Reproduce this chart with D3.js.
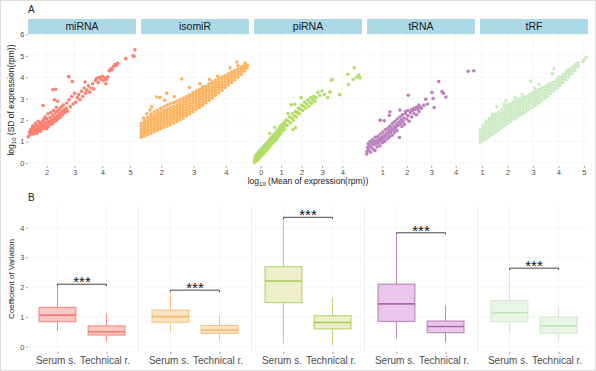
<!DOCTYPE html>
<html>
<head>
<meta charset="utf-8">
<script src="https://cdn.jsdelivr.net/npm/d3@7"></script>
<style>
	body { margin: 0; background: #fff; }
	text { font-family: "Liberation Sans", Arial, sans-serif; }
</style>
</head>
<body>
<svg width="596" height="371"></svg>
<script>
// ---- data ----
const facets = ['miRNA', 'isomiR', 'piRNA', 'tRNA', 'tRF'];
const groups = ['Serum s.', 'Technical r.'];

const xTicksA = [[2, 3, 4, 5], [2, 3, 4], [0, 1, 2, 3, 4], [1, 2, 3, 4], [1, 2, 3, 4, 5]];
const yTicksA = [0, 1, 2, 3, 4, 5, 6];
const yTicksB = [0, 1, 2, 3, 4];

// log10 mean, log10 SD
const mirnaPts = [
	[1.34,1.22],[1.38,1.45],[1.4,1.32],[1.42,1.55],[1.45,1.4],[1.48,1.62],[1.5,1.48],[1.52,1.35],[1.55,1.58],[1.57,1.7],
	[1.6,1.45],[1.62,1.6],[1.65,1.52],[1.67,1.75],[1.7,1.62],[1.72,1.5],[1.75,1.68],[1.77,1.85],[1.8,1.58],[1.82,1.72],
	[1.85,1.95],[1.87,1.65],[1.9,1.8],[1.92,1.6],[1.95,1.9],[1.97,1.72],[2.0,2.05],[2.02,1.85],[2.05,1.68],[2.07,1.95],
	[2.1,1.78],[2.12,2.12],[2.15,1.9],[2.17,2.0],[2.2,1.82],[2.22,2.2],[2.25,2.05],[2.27,1.92],[2.3,2.3],[2.32,2.12],
	[2.35,2.0],[2.37,2.4],[2.4,2.2],[2.42,2.08],[2.45,2.5],[2.47,2.3],[2.5,2.15],[2.52,2.6],[2.55,2.4],[2.57,2.25],
	[2.6,2.7],[2.62,2.48],[2.65,2.35],[2.7,2.55],[2.72,2.8],[2.75,2.42],[1.6,1.85],[1.7,1.95],[1.85,1.78],[1.95,2.15],
	[2.05,2.3],[2.15,2.35],[2.25,2.45],[2.35,2.6],[1.5,1.72],[1.45,1.52],[1.65,1.38],[1.78,1.48],[1.9,2.05],[2.0,1.6],
	[1.87,2.68],[2.22,3.42],[2.32,3.44],[2.79,4.03],[2.92,3.8],[2.28,2.95],[2.4,2.88],
	[2.8,2.95],[2.85,2.62],[2.9,3.1],[2.95,2.75],[3.0,3.25],[3.05,2.85],[3.1,3.05],[3.15,3.2],[3.2,2.95],[3.25,3.35],
	[3.3,3.1],[3.35,3.5],[3.38,3.78],[3.4,3.25],[3.45,3.4],[3.5,3.6],[3.55,3.3],[3.6,3.5],[3.65,3.7],[3.7,3.45],
	[3.75,3.85],[3.8,3.95],[3.85,3.75],[3.9,4.0],[3.95,3.9],[4.0,4.05],[4.05,3.85],[4.1,3.98],[4.13,3.7],[4.15,3.9],
	[4.2,4.02],[4.25,4.3],[4.3,4.4],[4.35,4.35],[4.4,4.5],[4.45,4.6],[4.5,4.55],[4.55,4.65],[4.84,4.87],[5.1,5.0],
	[5.14,4.98],[5.17,5.28]
];

// dense band, each row: mean, then the SD values at that mean
const isomirCols = [
	[1.38,1.2,1.33,1.46,1.59,1.72,1.85],
	[1.48,1.26,1.39,1.52,1.65,1.78,1.91,2.02],
	[1.58,1.32,1.45,1.58,1.71,1.84,1.97,2.12],
	[1.68,1.39,1.52,1.65,1.78,1.91,2.04,2.17,2.28],
	[1.78,1.46,1.59,1.72,1.85,1.98,2.11,2.24,2.38],
	[1.88,1.53,1.66,1.79,1.92,2.05,2.18,2.31,2.46],
	[1.98,1.6,1.73,1.86,1.99,2.12,2.25,2.38,2.55],
	[2.08,1.67,1.8,1.93,2.06,2.19,2.32,2.45,2.62],
	[2.18,1.73,1.86,1.99,2.12,2.25,2.38,2.51,2.7],
	[2.28,1.79,1.92,2.05,2.18,2.31,2.44,2.57,2.76],
	[2.38,1.87,2.0,2.13,2.26,2.39,2.52,2.65,2.82],
	[2.48,1.94,2.07,2.2,2.33,2.46,2.59,2.72,2.88],
	[2.58,2.02,2.15,2.28,2.41,2.54,2.67,2.8,2.95],
	[2.68,2.1,2.23,2.36,2.49,2.62,2.75,2.88,3.02],
	[2.78,2.19,2.32,2.45,2.58,2.71,2.84,2.97,3.1],
	[2.88,2.29,2.42,2.55,2.68,2.81,2.94,3.07,3.18],
	[2.98,2.39,2.52,2.65,2.78,2.91,3.04,3.17,3.28],
	[3.08,2.49,2.62,2.75,2.88,3.01,3.14,3.27,3.36],
	[3.18,2.59,2.72,2.85,2.98,3.11,3.24,3.37,3.44],
	[3.28,2.69,2.82,2.95,3.08,3.21,3.34,3.47,3.54],
	[3.38,2.8,2.93,3.06,3.19,3.32,3.45,3.58],
	[3.48,2.92,3.05,3.18,3.31,3.44,3.57,3.7],
	[3.58,3.04,3.17,3.3,3.43,3.56,3.69,3.78],
	[3.68,3.16,3.29,3.42,3.55,3.68,3.81,3.86],
	[3.78,3.28,3.41,3.54,3.67,3.8,3.93],
	[3.88,3.4,3.53,3.66,3.79,3.92,4.0],
	[3.98,3.52,3.65,3.78,3.91,4.04,4.08],
	[4.08,3.64,3.77,3.9,4.03,4.16],
	[4.18,3.76,3.89,4.02,4.15,4.24],
	[4.28,3.88,4.01,4.14,4.27,4.32],
	[4.38,4.0,4.13,4.26,4.39],
	[4.48,4.14,4.27,4.4,4.48],
	[4.58,4.28,4.41,4.53],
	[4.66,4.44,4.55]
];
const isomirPts = [
	[2.63,3.92],[1.7,2.62],[2.17,3.26],[2.87,3.52],[1.96,3.05],[1.86,3.08],[2.11,2.93],[1.65,2.47],[3.41,3.4],
	[4.13,4.45],[4.38,4.54],[4.53,4.51],[4.66,4.55],[4.34,4.71],[4.6,4.67],[3.2,3.7],[3.5,3.9],[3.75,4.05],
	[2.4,3.1],[1.55,2.3],[1.45,2.1]
];

const pirnaPts = [
	[-0.32,0.03],[-0.3,0.15],[-0.28,0.3],[-0.25,0.08],[-0.22,0.22],[-0.2,0.4],[-0.17,0.12],[-0.15,0.3],[-0.12,0.5],[-0.1,0.2],
	[-0.07,0.38],[-0.05,0.58],[-0.02,0.28],[0.0,0.45],[0.03,0.65],[0.05,0.35],[0.08,0.52],[0.1,0.72],[0.13,0.42],[0.15,0.6],
	[0.18,0.8],[0.2,0.5],[0.23,0.68],[0.25,0.88],[0.28,0.58],[0.3,0.78],[0.33,0.95],[0.35,0.65],[0.38,0.85],[0.4,1.05],
	[0.43,0.75],[0.44,1.38],[0.45,0.95],[0.48,1.15],[0.5,0.85],[0.53,1.02],[0.55,1.22],[0.58,0.92],[0.6,1.1],[0.63,1.3],
	[0.65,1.0],[0.68,1.66],[0.7,1.2],[0.72,1.4],[0.75,1.08],[0.78,1.3],[0.8,1.5],[0.83,1.18],[0.85,1.4],[0.88,1.6],
	[0.9,1.3],[0.93,1.5],[0.95,1.7],[0.98,1.38],[1.0,1.6],[1.05,1.8],[1.08,1.5],[1.1,1.7],[1.15,1.9],[1.18,1.6],
	[1.2,1.8],[1.25,2.0],[1.3,1.75],[1.33,2.31],[1.35,1.95],[1.4,2.15],[1.45,1.88],[1.5,2.1],[1.49,2.72],[1.55,2.3],
	[1.57,1.55],[1.6,2.0],[1.66,2.74],[1.65,2.2],[1.7,1.65],[1.7,2.4],[1.75,2.15],[1.8,2.35],[1.85,2.55],[1.9,2.3],
	[1.95,2.5],[1.98,3.05],[2.0,2.7],[2.05,2.45],[2.1,2.65],[2.15,2.85],[2.2,2.55],[2.25,2.75],[2.3,2.95],[2.35,2.65],
	[2.4,2.85],[2.45,3.05],[2.5,2.78],[2.55,2.95],[2.6,3.1],[2.65,2.88],[2.71,3.05],[2.8,3.3],[2.9,3.15],[3.0,3.36],
	[3.12,3.2],[3.28,3.05],[3.4,3.29],[3.46,3.86],[3.38,3.32],[3.49,3.9],[3.87,3.19],[4.26,4.14],[4.3,3.66],[4.53,3.9],
	[4.58,4.45],[4.69,4.0],[4.86,3.98],[4.8,4.1]
];

const trnaPts = [
	[0.36,0.42],[0.38,0.55],[0.4,0.72],[0.42,0.9],[0.45,0.62],[0.48,0.8],[0.5,1.0],[0.52,0.5],[0.55,0.75],[0.58,0.92],
	[0.6,1.1],[0.62,0.65],[0.65,0.85],[0.68,1.02],[0.7,0.58],[0.72,1.2],[0.75,0.9],[0.78,0.75],[0.8,1.05],[0.82,1.25],
	[0.85,0.95],[0.88,1.12],[0.9,0.8],[0.92,1.35],[0.95,1.05],[0.98,1.2],[1.0,0.95],[1.02,1.45],[1.05,1.15],[1.08,1.3],
	[1.1,1.02],[1.12,1.55],[1.15,1.25],[1.18,1.4],[1.2,1.12],[1.22,1.62],[1.25,1.35],[1.28,1.5],[1.3,1.22],[1.32,1.72],
	[1.35,1.45],[1.38,1.6],[1.4,1.3],[1.42,1.85],[1.45,1.55],[1.48,1.7],[1.5,1.42],[1.52,1.95],[1.55,1.65],[1.58,1.8],
	[1.6,1.52],[1.62,2.05],[1.65,1.75],[1.68,1.9],[1.7,1.19],[1.72,2.15],[1.75,1.85],[1.78,2.0],[1.8,1.7],[1.82,2.25],
	[1.85,1.95],[1.88,2.1],[1.9,1.8],[1.95,2.3],[2.0,2.05],[2.05,2.2],[2.1,1.95],[2.15,2.35],[2.2,2.15],[2.25,2.45],
	[2.3,2.3],[2.35,2.5],[2.4,2.25],[2.45,2.55],[2.5,2.4],[2.55,2.6],[1.95,2.4],[2.05,2.45],[2.2,2.5],[2.3,2.55],
	[2.4,2.6],[2.5,2.7],[2.6,2.55],[2.7,2.7],[0.91,2.0],[1.08,1.97],[1.29,2.23],[1.31,2.39],[1.72,2.47],[2.06,3.16],
	[2.78,2.98],[2.85,2.75],[3.08,3.01],[3.12,2.59],[3.03,3.29],[3.31,3.8],[3.44,3.33],[3.6,3.08],[3.5,3.25],
	[4.51,4.28],[4.74,4.3]
];

const trfCols = [
	[0.93,0.98,1.12,1.26,1.4,1.54],
	[1.05,1.05,1.19,1.33,1.47,1.61,1.75],
	[1.17,1.13,1.27,1.41,1.55,1.69,1.83,1.95],
	[1.29,1.23,1.37,1.51,1.65,1.79,1.93,2.07],
	[1.41,1.33,1.47,1.61,1.75,1.89,2.03,2.17],
	[1.53,1.43,1.57,1.71,1.85,1.99,2.13,2.27],
	[1.65,1.54,1.68,1.82,1.96,2.1,2.24,2.38],
	[1.77,1.64,1.78,1.92,2.06,2.2,2.34,2.5],
	[1.89,1.74,1.88,2.02,2.16,2.3,2.44,2.6],
	[2.01,1.85,1.99,2.13,2.27,2.41,2.55,2.7],
	[2.13,1.94,2.08,2.22,2.36,2.5,2.64,2.78],
	[2.25,2.04,2.18,2.32,2.46,2.6,2.74,2.86],
	[2.37,2.14,2.28,2.42,2.56,2.7,2.84,2.95],
	[2.49,2.22,2.36,2.5,2.64,2.78,2.92,3.0],
	[2.61,2.31,2.45,2.59,2.73,2.87,3.01,3.07],
	[2.73,2.4,2.54,2.68,2.82,2.96,3.1],
	[2.85,2.5,2.64,2.78,2.92,3.06,3.18],
	[2.97,2.6,2.74,2.88,3.02,3.16,3.28],
	[3.09,2.69,2.83,2.97,3.11,3.25,3.36],
	[3.21,2.79,2.93,3.07,3.21,3.35,3.43],
	[3.33,2.89,3.03,3.17,3.31,3.45,3.5],
	[3.45,3.0,3.14,3.28,3.42,3.56],
	[3.57,3.11,3.25,3.39,3.53,3.65],
	[3.69,3.23,3.37,3.51,3.65,3.72],
	[3.81,3.36,3.5,3.64,3.78],
	[3.93,3.49,3.63,3.77,3.9],
	[4.05,3.61,3.75,3.89,4.0],
	[4.17,3.75,3.89,4.03,4.12],
	[4.29,3.89,4.03,4.17,4.24],
	[4.41,4.03,4.17,4.31,4.36],
	[4.53,4.17,4.31,4.45],
	[4.65,4.33,4.47,4.56],
	[4.77,4.5,4.62,4.68]
];
const trfPts = [
	[1.86,2.74],[1.93,2.9],[1.58,2.62],[1.4,2.28],[1.14,1.89],[2.58,3.21],[2.3,3.05],[2.91,3.83],[3.24,3.67],[3.05,3.5],
	[3.82,4.4],[3.76,4.17],[4.02,4.02],[4.35,4.29],[4.67,4.6],[4.72,4.55],[4.96,4.73],[5.0,4.82],[5.1,4.92]
];

// coefficient of variation: [lower whisker, q1, median, q3, upper whisker]
const serumStats = [
	[0.52, 0.84, 1.06, 1.32, 2.02],
	[0.52, 0.82, 1.01, 1.23, 1.8],
	[0.11, 1.48, 2.21, 2.69, 4.3],
	[0.28, 0.85, 1.44, 2.1, 3.75],
	[0.5, 0.84, 1.14, 1.55, 2.6]
];
const technicalStats = [
	[0.17, 0.39, 0.5, 0.7, 1.12],
	[0.23, 0.45, 0.56, 0.71, 1.07],
	[0.06, 0.6, 0.81, 1.04, 1.66],
	[0.15, 0.47, 0.68, 0.86, 1.38],
	[0.2, 0.45, 0.7, 0.99, 1.3]
];
const sigHeights = [2.1, 1.9, 4.35, 3.83, 2.64];
const sigLabels = ['***', '***', '***', '***', '***'];

// ---- styles ----
const pointColors = ['#FB8072', '#FDB462', '#B3DE69', '#BC80BD', '#CCEBC5'];
const boxStroke = ['#F48C84', '#F9C27E', '#B5D46C', '#BC80BD', '#CFEAC8'];
const boxFill = ['#FCC8C1', '#FDE4C2', '#EDEFCB', '#E9C6EA', '#E9F6E6'];
const medianStroke = ['#EE7E76', '#F6B86C', '#A8CA5C', '#A86AAA', '#C2E2BA'];

const svg = d3.select('svg');
const width = +svg.attr('width');
const height = +svg.attr('height');

svg.append('rect')
	.attr('x', 0.5).attr('y', 0.5)
	.attr('width', width - 1).attr('height', height - 1)
	.attr('fill', '#fff')
	.attr('stroke', '#dedede');

const panelLeft = 28;
const panelW = 108;
const panelGap = 5;
const panelX = i => panelLeft + i * (panelW + panelGap);

const gridColor = '#f0f0f0';
const axisText = '#4d4d4d';
const intFormat = d3.format('d');

const toPoints = cols => cols.flatMap(c => c.slice(1).map(y => [c[0], y]));
const scatterData = [
	mirnaPts,
	toPoints(isomirCols).concat(isomirPts),
	pirnaPts,
	trnaPts,
	toPoints(trfCols).concat(trfPts)
];

const styleAxis = (axisG, size) => {
	axisG.select('.domain').remove();
	axisG.selectAll('.tick line').attr('stroke', '#666').attr('stroke-width', 0.6);
	axisG.selectAll('.tick text')
		.attr('fill', axisText)
		.style('font-size', size + 'px')
		.style('font-family', '"Liberation Sans", Arial, sans-serif');
};

// ================= panel A =================
const stripTop = 19;
const topA = 34;
const bottomA = 166;
const xDomainsA = [[1.33, 5.21], [1.37, 4.72], [-0.33, 4.96], [0.375, 4.79], [0.92, 5.16]];

const yA = d3.scaleLinear().domain([-0.14, 6.02]).range([bottomA, topA]);

svg.append('text')
	.attr('x', 28).attr('y', 13)
	.style('font-size', '10px')
	.attr('fill', '#222')
	.text('A');

facets.forEach((name, i) => {
	const g = svg.append('g').attr('transform', `translate(${panelX(i)},0)`);
	const x = d3.scaleLinear().domain(xDomainsA[i]).range([0, panelW]);

	g.selectAll('.hgrid').data(yTicksA).enter().append('line')
		.attr('x1', 0).attr('x2', panelW)
		.attr('y1', d => yA(d)).attr('y2', d => yA(d))
		.attr('stroke', gridColor).attr('stroke-width', 0.6);
	g.selectAll('.vgrid').data(xTicksA[i]).enter().append('line')
		.attr('x1', d => x(d)).attr('x2', d => x(d))
		.attr('y1', topA).attr('y2', bottomA)
		.attr('stroke', gridColor).attr('stroke-width', 0.6);

	g.selectAll('circle').data(scatterData[i])
		.enter().append('circle')
			.attr('cx', d => x(d[0]))
			.attr('cy', d => yA(d[1]))
			.attr('r', 1.8)
			.attr('fill', pointColors[i]);

	const xAxisG = g.append('g')
		.attr('transform', `translate(0,${bottomA})`)
		.call(d3.axisBottom(x).tickValues(xTicksA[i]).tickFormat(intFormat).tickSize(2).tickPadding(1.5));
	styleAxis(xAxisG, 7.5);

	g.append('rect')
		.attr('x', 0).attr('y', stripTop)
		.attr('width', panelW).attr('height', topA - stripTop)
		.attr('fill', '#ADD8E6');
	g.append('text')
		.attr('x', panelW / 2).attr('y', stripTop + 11)
		.attr('text-anchor', 'middle')
		.style('font-size', '10.5px')
		.attr('fill', '#1a1a1a')
		.text(name);
});

const yAxisA = svg.append('g')
	.attr('transform', `translate(${panelLeft},0)`)
	.call(d3.axisLeft(yA).tickValues(yTicksA).tickFormat(intFormat).tickSize(2).tickPadding(1.5));
styleAxis(yAxisA, 7.5);

const log10Label = (sel, rest) => {
	sel.append('tspan').text('log');
	sel.append('tspan').attr('baseline-shift', '-25%').style('font-size', '6px').text('10');
	sel.append('tspan').text(rest);
};

svg.append('text')
	.attr('transform', `translate(14,${(topA + bottomA) / 2}) rotate(-90)`)
	.attr('text-anchor', 'middle')
	.style('font-size', '8.5px')
	.attr('fill', '#222')
	.call(log10Label, ' (SD of expression(rpm))');

svg.append('text')
	.attr('x', (panelLeft + panelX(4) + panelW) / 2).attr('y', 184)
	.attr('text-anchor', 'middle')
	.style('font-size', '8.5px')
	.attr('fill', '#222')
	.call(log10Label, ' (Mean of expression(rpm))');

// ================= panel B =================
const topB = 206;
const bottomB = 352;
const yB = d3.scaleLinear().domain([-0.18, 4.73]).range([bottomB, topB]);
const xB = d3.scalePoint().domain(groups).range([0, panelW]).padding(0.6);
const boxW = xB.step() * 0.75;

svg.append('text')
	.attr('x', 28).attr('y', 201)
	.style('font-size', '10px')
	.attr('fill', '#222')
	.text('B');

facets.forEach((name, i) => {
	const g = svg.append('g').attr('transform', `translate(${panelX(i)},0)`);

	g.selectAll('.hgrid').data(yTicksB).enter().append('line')
		.attr('x1', 0).attr('x2', panelW)
		.attr('y1', d => yB(d)).attr('y2', d => yB(d))
		.attr('stroke', gridColor).attr('stroke-width', 0.6);
	g.selectAll('.vgrid').data(groups).enter().append('line')
		.attr('x1', d => xB(d)).attr('x2', d => xB(d))
		.attr('y1', topB).attr('y2', bottomB)
		.attr('stroke', gridColor).attr('stroke-width', 0.6);

	// faint panel separator
	if (i < facets.length - 1) {
		g.append('line')
			.attr('x1', panelW + panelGap / 2).attr('x2', panelW + panelGap / 2)
			.attr('y1', topB).attr('y2', bottomB)
			.attr('stroke', '#ececec').attr('stroke-width', 0.8);
	}

	const stats = [serumStats[i], technicalStats[i]];
	const boxes = g.selectAll('.box').data(stats.map((s, j) => ({ group: groups[j], s })))
		.enter().append('g');

	boxes.append('line')
		.attr('x1', d => xB(d.group)).attr('x2', d => xB(d.group))
		.attr('y1', d => yB(d.s[0])).attr('y2', d => yB(d.s[1]))
		.attr('stroke', boxStroke[i]).attr('stroke-width', 1);
	boxes.append('line')
		.attr('x1', d => xB(d.group)).attr('x2', d => xB(d.group))
		.attr('y1', d => yB(d.s[3])).attr('y2', d => yB(d.s[4]))
		.attr('stroke', boxStroke[i]).attr('stroke-width', 1);
	boxes.append('rect')
		.attr('x', d => xB(d.group) - boxW / 2)
		.attr('y', d => yB(d.s[3]))
		.attr('width', boxW)
		.attr('height', d => yB(d.s[1]) - yB(d.s[3]))
		.attr('fill', boxFill[i])
		.attr('stroke', boxStroke[i]).attr('stroke-width', 1.1);
	boxes.append('line')
		.attr('x1', d => xB(d.group) - boxW / 2).attr('x2', d => xB(d.group) + boxW / 2)
		.attr('y1', d => yB(d.s[2])).attr('y2', d => yB(d.s[2]))
		.attr('stroke', medianStroke[i]).attr('stroke-width', 1.6);

	// significance bracket
	const by = yB(sigHeights[i]);
	const x0 = xB(groups[0]);
	const x1 = xB(groups[1]);
	g.append('path')
		.attr('d', `M${x0},${by + 1.8}V${by}H${x1}V${by + 1.8}`)
		.attr('fill', 'none')
		.attr('stroke', '#333').attr('stroke-width', 0.9);
	g.append('text')
		.attr('x', (x0 + x1) / 2).attr('y', by + 3.2)
		.attr('text-anchor', 'middle')
		.style('font-size', '15px')
		.attr('fill', '#111')
		.text(sigLabels[i]);

	const xAxisG = g.append('g')
		.attr('transform', `translate(0,${bottomB})`)
		.call(d3.axisBottom(xB).tickSize(2).tickPadding(3));
	styleAxis(xAxisG, 10);
	xAxisG.selectAll('.tick text').attr('dx', -2);
});

const yAxisB = svg.append('g')
	.attr('transform', `translate(${panelLeft},0)`)
	.call(d3.axisLeft(yB).tickValues(yTicksB).tickFormat(intFormat).tickSize(2).tickPadding(1.5));
styleAxis(yAxisB, 7.5);

svg.append('text')
	.attr('transform', `translate(14,${(topB + bottomB) / 2}) rotate(-90)`)
	.attr('text-anchor', 'middle')
	.style('font-size', '8px')
	.attr('fill', '#222')
	.text('Coefficient of Variation');
</script>
</body>
</html>
